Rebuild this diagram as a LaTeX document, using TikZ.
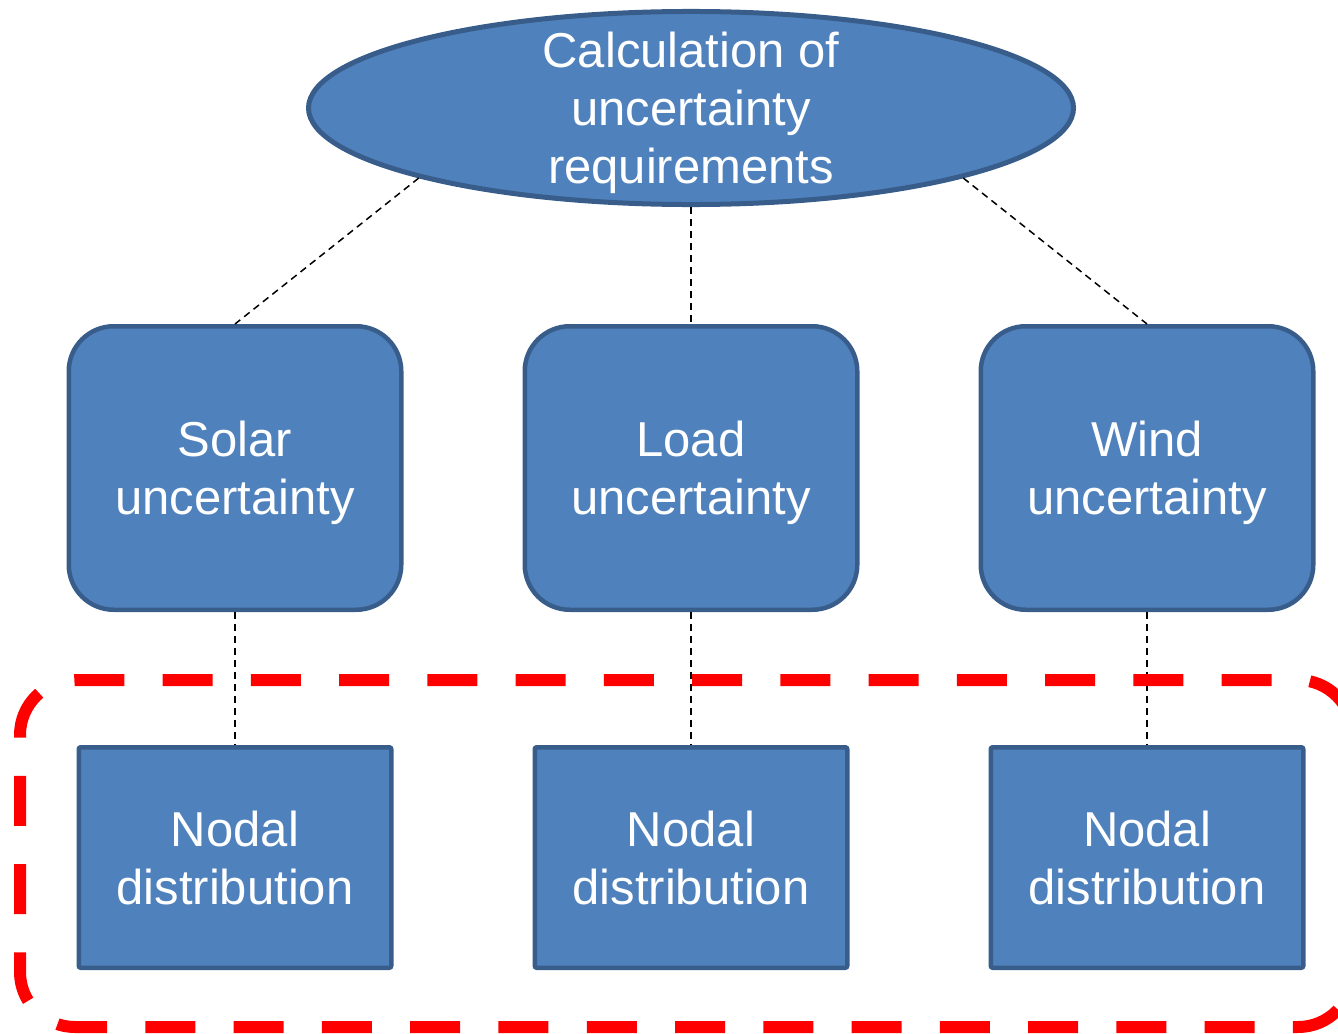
\documentclass[tikz,border=0pt]{standalone}
\usepackage{fontspec}
\setmainfont{Liberation Sans}
\usepackage{tikz}
\usetikzlibrary{shapes.geometric, positioning}

\definecolor{boxfill}{HTML}{4F81BD}
\definecolor{boxline}{HTML}{385D8A}

\tikzset{
  bigtext/.style={font=\fontsize{49}{58}\selectfont, text=white, align=center, inner sep=0pt, text depth=0pt},
  goal/.style={draw=boxline, line width=5pt, fill=boxfill, ellipse, bigtext, inner ysep=-7.5pt, minimum width=765pt, minimum height=188pt},
  source/.style={draw=boxline, line width=4.5pt, fill=boxfill, rectangle, rounded corners=45pt, bigtext, minimum width=332.5pt, minimum height=283.5pt},
  nodal/.style={draw=boxline, line width=4.5pt, fill=boxfill, rectangle, rounded corners=2pt, bigtext, minimum width=312.5pt, minimum height=220.5pt},
  link/.style={draw=black, line width=1.5pt, dash pattern=on 7pt off 5pt},
  focus/.style={draw=red, line width=12pt, dash pattern=on 50pt off 38.26pt, rounded corners=55pt}
}

\begin{document}
\begin{tikzpicture}[x=1pt, y=-1pt]
        \useasboundingbox (0,0) rectangle (1338,1033);
        \clip (0,0) rectangle (1338,1033);

        \node (calc) [goal] at (691,108) {Calculation of\\uncertainty\\requirements};
        \node (load) [source, below of=calc, node distance=360pt] {Load\\uncertainty};
        \node (solar) [source, left of=load, node distance=456pt] {Solar\\uncertainty};
        \node (wind) [source, right of=load, node distance=456pt] {Wind\\uncertainty};

        \node (nload) [nodal, below of=load, node distance=389.5pt] {Nodal\\distribution};
        \node (nsolar) [nodal, below of=solar, node distance=389.5pt] {Nodal\\distribution};
        \node (nwind) [nodal, below of=wind, node distance=389.5pt] {Nodal\\distribution};

        \draw[link] (calc.south west) -- (solar.north);
        \draw[link] (calc.south) -- (load.north);
        \draw[link] (calc.south east) -- (wind.north);
        \draw[link] (solar.south) -- (nsolar.north);
        \draw[link] (load.south) -- (nload.north);
        \draw[link] (wind.south) -- (nwind.north);

        % highlighted group
        \draw[focus] (162.5,680) -- (1353,680) -- (1353,1027) -- (20,1027) -- (20,680) -- (162.5,680);
    \end{tikzpicture}
\end{document}
